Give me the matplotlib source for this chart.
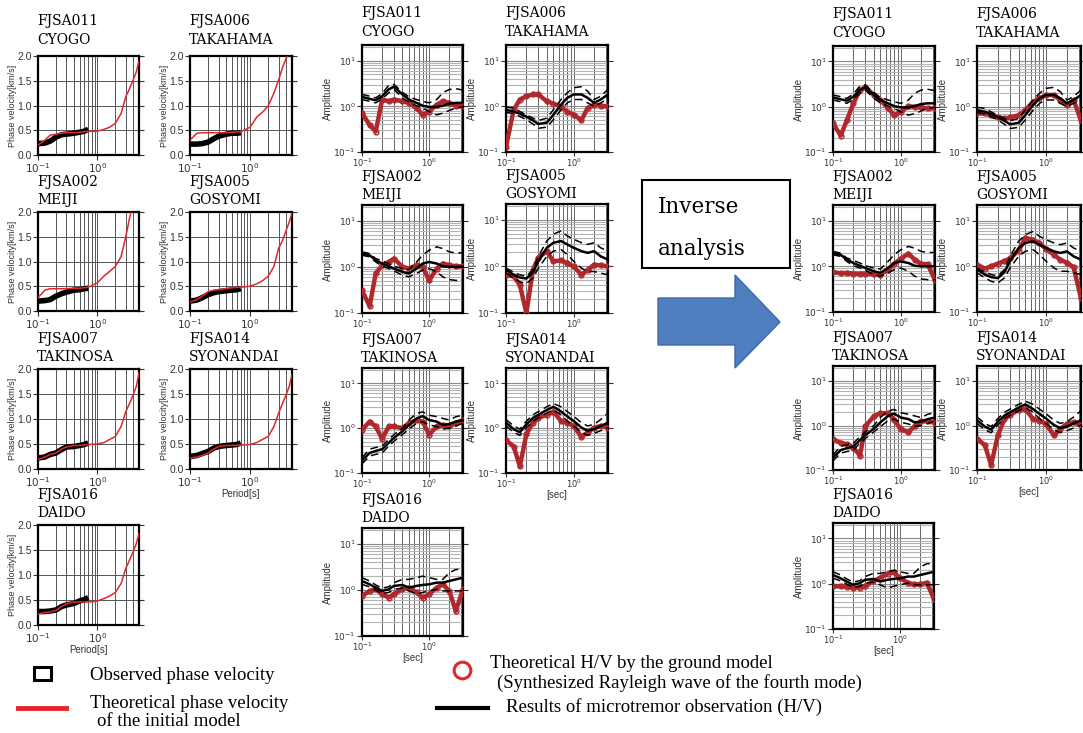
"""Phase velocity and H/V fits before and after the inverse analysis."""

import matplotlib

matplotlib.use("Agg")
import matplotlib.pyplot as plt
from matplotlib.lines import Line2D
from matplotlib.patches import Polygon, Rectangle
from matplotlib.ticker import LogLocator, NullFormatter

STATION_CODES = ["FJSA011", "FJSA006", "FJSA002", "FJSA005", "FJSA007", "FJSA014", "FJSA016"]
STATION_NAMES = ["CYOGO", "TAKAHAMA", "MEIJI", "GOSYOMI", "TAKINOSA", "SYONANDAI", "DAIDO"]

# phase velocity panels [km/s]
T_PV_OBS = [0.10, 0.13, 0.16, 0.20, 0.25, 0.30, 0.40, 0.50, 0.60, 0.70]
PV_OBS = [
    [0.23, 0.24, 0.28, 0.36, 0.41, 0.42, 0.44, 0.46, 0.48, 0.52],
    [0.22, 0.22, 0.23, 0.26, 0.33, 0.38, 0.42, 0.44, 0.44, 0.45],
    [0.20, 0.21, 0.23, 0.30, 0.35, 0.38, 0.42, 0.43, 0.45, 0.46],
    [0.20, 0.22, 0.27, 0.33, 0.37, 0.39, 0.41, 0.42, 0.43, 0.45],
    [0.22, 0.24, 0.29, 0.32, 0.39, 0.44, 0.45, 0.47, 0.49, 0.52],
    [0.25, 0.27, 0.31, 0.35, 0.42, 0.45, 0.47, 0.48, 0.49, 0.52],
    [0.27, 0.27, 0.28, 0.30, 0.37, 0.40, 0.43, 0.48, 0.51, 0.55],
]
T_PV = [0.10, 0.13, 0.16, 0.20, 0.25, 0.30, 0.40, 0.50, 0.70, 1.00,
        1.30, 1.60, 2.00, 2.50, 3.00, 3.50, 4.00, 4.50, 5.00]
PV_THEORY = [
    [0.20, 0.30, 0.40, 0.42, 0.44, 0.45, 0.45, 0.46, 0.48, 0.48, 0.52, 0.56, 0.64, 0.84, 1.18, 1.35, 1.52, 1.68, 1.90],
    [0.30, 0.44, 0.45, 0.45, 0.45, 0.45, 0.45, 0.46, 0.47, 0.56, 0.77, 0.86, 0.99, 1.25, 1.52, 1.78, 1.95, 2.05, 2.20],
    [0.27, 0.42, 0.45, 0.45, 0.45, 0.45, 0.46, 0.46, 0.48, 0.57, 0.71, 0.80, 0.90, 1.10, 1.50, 1.90, 2.17, 2.40, 2.60],
    [0.18, 0.23, 0.30, 0.39, 0.42, 0.43, 0.45, 0.47, 0.48, 0.50, 0.55, 0.61, 0.70, 0.90, 1.27, 1.43, 1.63, 1.80, 1.98],
    [0.19, 0.24, 0.29, 0.32, 0.40, 0.44, 0.47, 0.47, 0.49, 0.50, 0.53, 0.59, 0.65, 0.85, 1.15, 1.32, 1.49, 1.65, 1.92],
    [0.22, 0.24, 0.27, 0.32, 0.40, 0.45, 0.47, 0.47, 0.48, 0.49, 0.53, 0.59, 0.65, 0.85, 1.12, 1.32, 1.49, 1.65, 1.89],
    [0.22, 0.25, 0.26, 0.29, 0.37, 0.42, 0.46, 0.46, 0.46, 0.48, 0.53, 0.58, 0.65, 0.83, 1.13, 1.31, 1.47, 1.63, 1.83],
]

# H/V panels
T_HV = [0.10, 0.13, 0.16, 0.20, 0.25, 0.30, 0.40, 0.50, 0.65, 0.80, 1.00, 1.30, 1.60, 2.00, 2.50, 3.20]
HV_OBS_MEAN = [
    [1.61, 1.46, 1.36, 1.67, 2.35, 2.69, 1.82, 1.41, 1.19, 1.03, 0.97, 0.97, 1.03, 1.15, 1.19, 1.19],
    [0.84, 0.77, 0.69, 0.59, 0.49, 0.41, 0.44, 0.65, 1.09, 1.53, 1.82, 1.82, 1.53, 1.19, 1.41, 1.82],
    [1.95, 1.79, 1.40, 1.18, 1.03, 0.92, 0.78, 0.72, 0.92, 1.18, 1.28, 1.18, 1.03, 1.00, 1.00, 1.00],
    [0.85, 0.66, 0.58, 0.55, 0.75, 1.29, 2.52, 3.24, 3.52, 2.98, 2.52, 2.13, 1.96, 2.13, 1.65, 1.40],
    [0.19, 0.28, 0.31, 0.34, 0.47, 0.61, 0.85, 1.18, 1.65, 1.86, 1.52, 1.40, 1.18, 1.24, 1.40, 1.52],
    [1.32, 0.95, 0.81, 1.22, 1.69, 1.99, 2.55, 3.00, 2.35, 1.84, 1.44, 1.03, 0.88, 0.95, 1.12, 1.32],
    [1.56, 1.32, 1.12, 0.95, 1.03, 1.22, 1.28, 1.12, 1.22, 1.28, 1.32, 1.44, 1.44, 1.56, 1.69, 1.84],
]
HV_OBS_UPPER = [
    [1.82, 1.67, 1.53, 1.91, 2.88, 3.03, 2.03, 1.61, 1.41, 1.29, 1.19, 1.41, 1.98, 2.34, 2.43, 2.27],
    [0.97, 0.92, 0.77, 0.65, 0.55, 0.49, 0.55, 0.84, 1.41, 1.98, 2.55, 2.69, 2.15, 1.41, 1.67, 2.35],
    [2.12, 1.95, 1.52, 1.35, 1.18, 1.03, 0.92, 0.87, 1.28, 1.79, 2.30, 2.72, 2.50, 2.12, 2.01, 2.01],
    [0.92, 0.75, 0.66, 0.62, 0.85, 1.65, 3.52, 4.94, 5.82, 4.54, 3.84, 3.24, 2.98, 3.24, 2.52, 2.13],
    [0.22, 0.34, 0.37, 0.40, 0.56, 0.72, 1.00, 1.52, 2.13, 2.31, 1.95, 1.80, 1.65, 1.52, 1.80, 1.95],
    [1.56, 1.12, 0.95, 1.44, 1.99, 2.35, 3.00, 3.55, 3.00, 2.35, 1.84, 1.32, 1.12, 1.22, 1.56, 2.17],
    [1.84, 1.56, 1.28, 1.09, 1.17, 1.44, 1.69, 1.69, 1.84, 1.99, 1.84, 1.69, 1.69, 2.35, 2.77, 2.77],
]
HV_OBS_LOWER = [
    [1.41, 1.29, 1.19, 1.46, 1.98, 2.35, 1.53, 1.23, 1.03, 0.92, 0.77, 0.65, 0.71, 0.81, 0.92, 0.97],
    [0.74, 0.69, 0.60, 0.51, 0.41, 0.33, 0.35, 0.51, 0.84, 1.19, 1.41, 1.41, 1.19, 1.00, 1.19, 1.46],
    [1.79, 1.65, 1.28, 1.03, 0.92, 0.82, 0.66, 0.61, 0.72, 0.85, 0.92, 0.78, 0.61, 0.53, 0.51, 0.51],
    [0.72, 0.56, 0.47, 0.43, 0.56, 0.92, 1.65, 2.13, 2.31, 1.80, 1.29, 0.92, 0.78, 0.78, 0.72, 0.66],
    [0.16, 0.24, 0.26, 0.28, 0.40, 0.51, 0.72, 0.95, 1.29, 1.40, 1.18, 1.09, 0.95, 1.00, 1.12, 1.29],
    [1.12, 0.81, 0.69, 1.03, 1.44, 1.69, 2.17, 2.55, 2.00, 1.44, 1.12, 0.81, 0.69, 0.77, 0.88, 1.03],
    [1.32, 1.16, 0.98, 0.83, 0.88, 1.03, 1.09, 0.95, 0.81, 0.88, 0.95, 1.03, 0.95, 0.95, 0.95, 0.95],
]
HV_MODEL_INITIAL = [
    [0.71, 0.39, 0.28, 1.41, 1.29, 1.41, 1.29, 1.19, 0.92, 0.65, 0.77, 1.09, 1.29, 1.19, 1.03, 1.00],
    [0.13, 0.84, 1.41, 1.67, 1.82, 1.82, 1.29, 1.15, 0.97, 0.77, 0.65, 0.50, 0.92, 1.09, 1.03, 1.00],
    [0.31, 0.14, 0.72, 1.09, 1.28, 1.52, 1.00, 0.92, 1.09, 1.00, 0.51, 0.92, 1.18, 1.09, 1.03, 1.03],
    [0.66, 0.61, 0.40, 0.10, 0.85, 1.55, 2.13, 1.29, 1.35, 1.18, 1.00, 0.66, 0.85, 1.09, 1.05, 1.00],
    [0.92, 1.40, 1.09, 0.58, 1.09, 1.09, 1.00, 1.29, 1.52, 1.40, 0.72, 1.09, 1.18, 1.09, 1.29, 1.52],
    [0.54, 0.39, 0.14, 0.74, 1.32, 1.69, 1.99, 2.35, 1.44, 1.32, 1.12, 0.63, 0.81, 1.03, 1.12, 1.03],
    [0.74, 0.95, 1.03, 0.81, 0.68, 0.81, 1.03, 1.12, 0.88, 0.68, 0.81, 1.12, 1.32, 0.95, 0.35, 1.03],
]
HV_MODEL_FINAL = [
    [0.43, 0.23, 0.50, 1.19, 2.35, 2.69, 1.82, 1.41, 0.92, 0.65, 0.77, 1.03, 1.00, 0.97, 0.92, 0.92],
    [0.71, 0.71, 0.65, 0.58, 0.55, 0.58, 0.65, 0.84, 1.29, 1.53, 1.82, 1.82, 1.41, 1.09, 1.41, 0.50],
    [0.75, 0.70, 0.72, 0.69, 0.69, 0.69, 0.67, 0.66, 0.85, 1.14, 1.47, 1.89, 1.40, 1.14, 1.11, 0.50],
    [1.09, 0.89, 1.00, 1.15, 1.30, 1.50, 2.20, 4.20, 3.80, 3.20, 2.40, 1.80, 1.40, 1.20, 0.95, 0.20],
    [0.49, 0.41, 0.38, 0.32, 0.21, 0.97, 1.61, 1.90, 1.90, 1.36, 0.82, 0.71, 0.97, 1.25, 1.25, 1.15],
    [0.51, 0.36, 0.13, 0.60, 1.41, 1.73, 2.27, 2.35, 1.41, 1.29, 1.09, 0.60, 0.84, 1.09, 1.19, 1.03],
    [0.89, 0.89, 0.86, 0.82, 0.82, 0.89, 1.14, 1.35, 1.67, 1.78, 1.35, 1.05, 0.97, 0.97, 1.05, 0.46],
]

# panel boxes in pixels: left, top, right, bottom
PV_BOXES = [(38, 56, 139, 155), (190, 56, 292, 155), (38, 212, 139, 311), (190, 212, 292, 311),
            (38, 369, 139, 469), (190, 369, 292, 469), (38, 525, 139, 625)]
HV_INIT_BOXES = [(362, 45, 463, 152), (506, 45, 608, 152), (362, 205, 463, 313), (506, 204, 608, 313),
                 (362, 368, 463, 473), (506, 368, 608, 473), (362, 528, 463, 636)]
HV_FINAL_BOXES = [(833, 46, 935, 152), (977, 46, 1081, 152), (833, 205, 935, 312), (977, 205, 1081, 312),
                  (833, 366, 935, 470), (977, 366, 1081, 470), (833, 523, 934, 629)]

W, H = 1083, 733
RED = "#e3262b"
DARK_RED = "#b0272c"
SANS = "Liberation Sans"
SERIF = "DejaVu Serif"
LEGEND_FONT = "Liberation Serif"

fig = plt.figure(figsize=(W / 100, H / 100), dpi=100)
fig.patch.set_facecolor("white")


def px_axes(box):
    left, top, right, bottom = box
    return fig.add_axes([left / W, 1 - bottom / H, (right - left) / W, (bottom - top) / H])


def px_text(x, y, s, **kw):
    return fig.text(x / W, 1 - y / H, s, **kw)


def frame(ax, size):
    for sp in ax.spines.values():
        sp.set_linewidth(1.6)
    ax.tick_params(which="major", labelsize=size, colors="#333333", length=3.5, width=0.8, pad=1,
                   right=True, direction="out")
    ax.tick_params(which="minor", length=0)
    for lab in ax.get_xticklabels() + ax.get_yticklabels():
        lab.set_fontfamily(SANS)
    ax.set_axisbelow(True)


def titles(box, k, offsets):
    left, top = box[0], box[1]
    px_text(left - 1, top - offsets[0], STATION_CODES[k], fontsize=10, family=SERIF, va="center")
    px_text(left - 1, top - offsets[1], STATION_NAMES[k], fontsize=10, family=SERIF, va="center")


def pv_panel(k, xlabel=False):
    box = PV_BOXES[k]
    ax = px_axes(box)
    ax.set_xscale("log")
    ax.set_xlim(0.1, 5)
    ax.set_ylim(0, 2)
    ax.set_xticks([0.1, 1])
    ax.set_xticklabels([r"$10^{-1}$", r"$10^{0}$"])
    ax.xaxis.set_minor_locator(LogLocator(base=10, subs=range(2, 10)))
    ax.xaxis.set_minor_formatter(NullFormatter())
    ax.set_yticks([0, 0.5, 1.0, 1.5, 2.0])
    ax.set_yticklabels(["0.0", "0.5", "1.0", "1.5", "2.0"])
    ax.grid(True, which="both", axis="x", color="#555555", lw=0.7)
    ax.grid(True, which="major", axis="y", color="#555555", lw=0.7)
    ax.plot(T_PV_OBS, PV_OBS[k], color="black", lw=4, solid_capstyle="butt", zorder=3)
    ax.plot(T_PV, PV_THEORY[k], color=RED, lw=1.1, zorder=4)
    ax.set_ylabel("Phase velocity[km/s]", fontsize=6.5, family=SANS, color="#333333", labelpad=0)
    if xlabel:
        ax.set_xlabel("Period[s]", fontsize=7, family=SANS, color="#333333", labelpad=0)
    frame(ax, 7.5)
    titles(box, k, (35, 16) if k < 2 else (30, 12))


def hv_panel(box, k, model, xlabel=False):
    ax = px_axes(box)
    ax.set_xscale("log")
    ax.set_yscale("log")
    ax.set_xlim(0.1, 3.2)
    ax.set_ylim(0.1, 22)
    ax.set_xticks([0.1, 1])
    ax.set_xticklabels([r"$10^{-1}$", r"$10^{0}$"])
    ax.set_yticks([0.1, 1, 10])
    ax.set_yticklabels([r"$10^{-1}$", r"$10^{0}$", r"$10^{1}$"])
    for axis in (ax.xaxis, ax.yaxis):
        axis.set_minor_locator(LogLocator(base=10, subs=range(2, 10)))
        axis.set_minor_formatter(NullFormatter())
    ax.grid(True, which="both", axis="x", color="#666666", lw=0.7)
    ax.grid(True, which="minor", axis="y", color="#b4b4b4", lw=0.8)
    ax.grid(True, which="major", axis="y", color="#8a8a8a", lw=0.8)
    ax.plot(T_HV, model[k], color=DARK_RED, lw=3.2, marker="o", ms=3.5, mfc="none", mew=1.0, zorder=3)
    ax.plot(T_HV, HV_OBS_UPPER[k], color="black", lw=1.1, ls=(0, (5, 3)), zorder=4)
    ax.plot(T_HV, HV_OBS_LOWER[k], color="black", lw=1.1, ls=(0, (5, 3)), zorder=4)
    ax.plot(T_HV, HV_OBS_MEAN[k], color="black", lw=1.8, zorder=4)
    ax.set_ylabel("Amplitude", fontsize=7, family=SANS, color="#333333", labelpad=0)
    if xlabel:
        ax.set_xlabel("[sec]", fontsize=7, family=SANS, color="#333333", labelpad=0)
    frame(ax, 6.5)
    ax.tick_params(axis="x", which="major", length=3, pad=0.5, labelsize=6)
    titles(box, k, (32, 13) if k < 2 else (28, 10))


for k in range(7):
    pv_panel(k, xlabel=k in (5, 6))
    hv_panel(HV_INIT_BOXES[k], k, HV_MODEL_INITIAL, xlabel=k in (5, 6))
    hv_panel(HV_FINAL_BOXES[k], k, HV_MODEL_FINAL, xlabel=k in (5, 6))

# "Inverse analysis" box and arrow
fig.add_artist(Rectangle((642 / W, 1 - 268 / H), (790 - 642) / W, (268 - 180) / H,
                         fill=False, lw=1.5, ec="black", transform=fig.transFigure))
px_text(658, 207, "Inverse", fontsize=15.5, family=SERIF, va="center")
px_text(658, 249, "analysis", fontsize=15.5, family=SERIF, va="center")
arrow_px = [(658, 298), (735, 298), (735, 275), (780, 322), (735, 368), (735, 345), (658, 345)]
fig.add_artist(Polygon([(x / W, 1 - y / H) for x, y in arrow_px], closed=True,
                       fc="#4f7fbf", ec="#3b6aa8", lw=1, transform=fig.transFigure))

# legend
fig.add_artist(Rectangle((34 / W, 1 - 680 / H), 17 / W, 13 / H, fill=False, lw=2.2,
                         ec="black", transform=fig.transFigure))
px_text(90, 676, "Observed phase velocity", fontsize=13.5, family=LEGEND_FONT, va="center")
fig.add_artist(Line2D([18 / W, 66 / W], [1 - 708 / H] * 2, color=RED, lw=3.5,
                      transform=fig.transFigure))
px_text(90, 703, "Theoretical phase velocity", fontsize=13.5, family=LEGEND_FONT, va="center")
px_text(97, 721, "of the initial model", fontsize=13.5, family=LEGEND_FONT, va="center")
fig.add_artist(Line2D([462 / W], [1 - 670 / H], marker="o", ms=12, mfc="none", mec=RED, mew=2.2,
                      transform=fig.transFigure))
px_text(490, 664, "Theoretical H/V by the ground model", fontsize=13.5, family=LEGEND_FONT, va="center")
px_text(497, 683, "(Synthesized Rayleigh wave of the fourth mode)", fontsize=13.5,
        family=LEGEND_FONT, va="center")
fig.add_artist(Line2D([437 / W, 488 / W], [1 - 708 / H] * 2, color="black", lw=3,
                      transform=fig.transFigure))
px_text(506, 707, "Results of microtremor observation (H/V)", fontsize=13.5,
        family=LEGEND_FONT, va="center")

fig.savefig("out.png", dpi=100)
